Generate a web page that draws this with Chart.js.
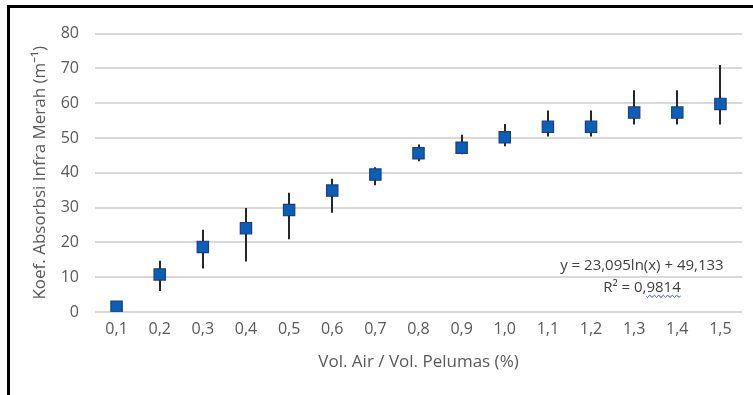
<!DOCTYPE html>
<html>
<head>
<meta charset="utf-8">
<script src="https://cdn.jsdelivr.net/npm/chart.js@4"></script>
<style>
  body { margin: 0; background: #fff; }
  .frame {
    position: absolute; left: 7px; top: 5px;
    width: 743px; height: 387px;
    border-left: 3px solid #000; border-top: 3px solid #000;
  }
</style>
</head>
<body>
<div class="frame"><canvas class="myChart" width="743" height="387"></canvas></div>
<script>
const labels = ['0,1','0,2','0,3','0,4','0,5','0,6','0,7','0,8','0,9','1,0','1,1','1,2','1,3','1,4','1,5']
const absorb = [1.5, 10.8, 18.7, 24.1, 29.3, 34.9, 39.5, 45.6, 47.2, 50.2, 53.2, 53.2, 57.3, 57.3, 59.8]
const errHigh = [2.0, 14.7, 23.6, 29.9, 34.3, 38.3, 41.6, 48.1, 50.9, 54.0, 57.9, 57.9, 63.7, 63.7, 71.0]
const errLow = [1.0, 6.0, 12.5, 14.5, 20.9, 28.5, 36.4, 43.3, 45.3, 47.6, 50.4, 50.4, 53.9, 53.9, 53.9]
const eqLines = ['y = 23,095ln(x) + 49,133', 'R² = 0,9814']

const FONT = '"Open Sans", "Noto Sans", sans-serif'
const TXT = '#595959'

// vertical error bars, drawn under the markers
const errorBars = {
    id: 'errorBars',
    beforeDatasetsDraw(chart){
        const {ctx, scales:{x, y}} = chart
        ctx.save()
        ctx.strokeStyle = '#262626'
        ctx.lineWidth = 2
        absorb.forEach((v, i)=>{
            const px = Math.round(x.getPixelForValue(i))
            ctx.beginPath()
            ctx.moveTo(px, y.getPixelForValue(errHigh[i]))
            ctx.lineTo(px, y.getPixelForValue(errLow[i]))
            ctx.stroke()
        })
        ctx.restore()
    }
}

// trendline equation text
const trendLabel = {
    id: 'trendLabel',
    afterDraw(chart){
        const {ctx, scales:{x, y}} = chart
        const cx = x.getPixelForValue(12.18)
        ctx.save()
        ctx.fillStyle = '#404040'
        ctx.font = '15px ' + FONT
        ctx.textAlign = 'center'
        ctx.textBaseline = 'middle'
        const y1 = y.getPixelForValue(13.2)
        const y2 = y.getPixelForValue(7.1)
        ctx.fillText(eqLines[0], cx, y1)
        ctx.fillText(eqLines[1], cx, y2)
        // spell-check squiggle under the decimals
        const full = ctx.measureText(eqLines[1]).width
        const tail = ctx.measureText('9814').width
        const xe = cx + full / 2
        const xs = xe - tail
        ctx.strokeStyle = '#3b5bdb'
        ctx.lineWidth = 1
        ctx.beginPath()
        for (let px = xs; px <= xe; px += 1){
            const py = y2 + 9 + Math.sin((px - xs) * 1.4) * 1.2
            if (px === xs) ctx.moveTo(px, py); else ctx.lineTo(px, py)
        }
        ctx.stroke()
        ctx.restore()
    }
}

const data = {
    labels: labels,
    datasets: [{
        label: 'Koef. Absorbsi',
        data: absorb,
        showLine: false,
        pointStyle: 'rect',
        pointRadius: 8,
        pointHoverRadius: 8,
        pointBackgroundColor: '#0a60b6',
        pointBorderColor: '#1b3c86',
        pointBorderWidth: 1.2,
    }]
}

const config = {
    type: 'line',
    data: data,
    options: {
        responsive: false,
        animation: false,
        layout: { padding: { top: 18, right: 11, left: 0, bottom: 0 } },
        plugins: { legend: { display: false }, tooltip: { enabled: false } },
        scales: {
            x: {
                offset: true,
                grid: { display: false, drawTicks: false },
                border: { display: false },
                ticks: { color: TXT, font: { family: FONT, size: 16 }, padding: 8, maxRotation: 0 },
                title: {
                    display: true, text: 'Vol. Air / Vol. Pelumas (%)',
                    color: TXT, font: { family: FONT, size: 17 },
                    padding: { top: 0, bottom: 23 }
                },
                afterFit(scale){ scale.height = 83 }
            },
            y: {
                min: 0, max: 80,
                grid: { color: '#d9d9d9', lineWidth: 2, drawTicks: false },
                border: { display: false },
                ticks: { stepSize: 10, color: TXT, font: { family: FONT, size: 16 }, padding: 16 },
                title: {
                    display: true, text: 'Koef. Absorbsi Infra Merah (m⁻¹)',
                    color: TXT, font: { family: FONT, size: 17 },
                    padding: { top: 20, bottom: 0 }
                },
                afterFit(scale){ scale.width = 85 }
            }
        }
    },
    plugins: [errorBars, trendLabel]
}

const chrt = document.querySelector('.myChart').getContext('2d')
new Chart(chrt, config)
</script>
</body>
</html>
